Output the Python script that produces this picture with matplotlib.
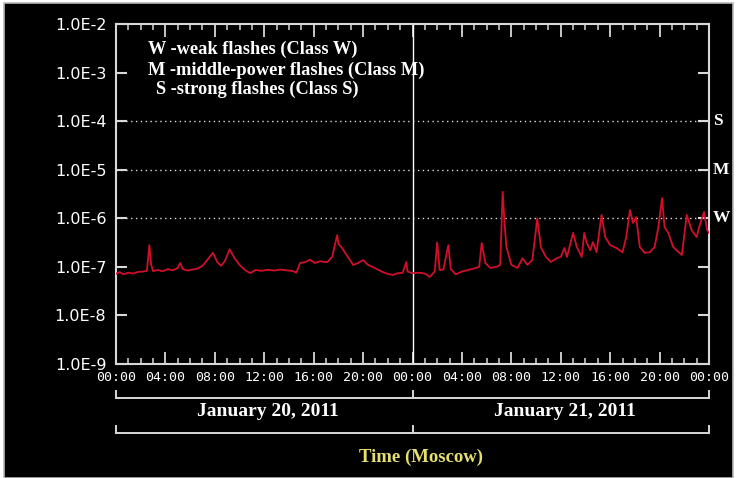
import matplotlib
matplotlib.use("Agg")
import matplotlib.pyplot as plt
from matplotlib.patches import Rectangle
from matplotlib.ticker import FixedLocator, FixedFormatter, NullFormatter
import numpy as np

# ---- data (hours since 2011-01-20 00:00 Moscow, X-ray flux) ----
hours = [0.0, 0.3, 0.6, 1.0, 1.4, 1.8, 2.2, 2.5, 2.7, 2.85, 3.0, 3.4, 3.8, 4.2, 4.6,
         5.0, 5.2, 5.4, 5.8, 6.2, 6.6, 7.0, 7.4, 7.85, 8.2, 8.5, 8.8, 9.2, 9.6, 10.0,
         10.4, 10.85, 11.3, 11.8, 12.3, 12.8, 13.3, 13.8, 14.3, 14.6, 14.9, 15.3, 15.7,
         16.1, 16.5, 17.1, 17.5, 17.9, 18.0, 18.3, 18.7, 19.2, 19.6, 20.0, 20.4, 20.8,
         21.2, 21.6, 22.0, 22.4, 22.8, 23.2, 23.5, 23.6, 24.0,
         24.5, 25.0, 25.4, 25.8, 26.0, 26.2, 26.5, 26.9, 27.1, 27.5, 28.0, 28.5, 29.0,
         29.4, 29.6, 29.9, 30.3, 30.8, 31.1, 31.3, 31.45, 31.6, 32.0, 32.5, 32.9, 33.3,
         33.7, 34.1, 34.4, 34.8, 35.2, 35.7, 36.0, 36.3, 36.5, 37.0, 37.3, 37.7, 37.9,
         38.1, 38.4, 38.6, 38.9, 39.3, 39.6, 40.0, 40.5, 41.0, 41.3, 41.6, 41.85, 42.1,
         42.4, 42.8, 43.2, 43.6, 43.9, 44.2, 44.4, 44.7, 45.1, 45.8, 46.2, 46.6, 47.0,
         47.2, 47.6, 47.85, 48.0]
flux = [7.2e-8, 7.8e-8, 7.0e-8, 7.6e-8, 7.3e-8, 7.9e-8, 8.0e-8, 8.3e-8, 2.8e-7, 1.1e-7,
        8.2e-8, 8.6e-8, 8.1e-8, 9.0e-8, 8.5e-8, 9.5e-8, 1.2e-7, 9.0e-8, 8.4e-8, 8.8e-8,
        9.2e-8, 1.05e-7, 1.4e-7, 1.95e-7, 1.25e-7, 1.05e-7, 1.3e-7, 2.3e-7, 1.5e-7,
        1.1e-7, 8.8e-8, 7.4e-8, 8.6e-8, 8.3e-8, 8.7e-8, 8.4e-8, 8.8e-8, 8.5e-8, 8.2e-8,
        7.6e-8, 1.2e-7, 1.25e-7, 1.4e-7, 1.2e-7, 1.3e-7, 1.25e-7, 1.6e-7, 4.5e-7, 3.0e-7,
        2.45e-7, 1.7e-7, 1.09e-7, 1.2e-7, 1.38e-7, 1.1e-7, 9.9e-8, 8.8e-8, 7.8e-8, 7.2e-8,
        6.8e-8, 7.4e-8, 7.5e-8, 1.26e-7, 8.0e-8, 7.4e-8,
        7.6e-8, 7.3e-8, 6.2e-8, 8.0e-8, 3.2e-7, 8.6e-8, 8.8e-8, 2.8e-7, 9.0e-8, 7.0e-8,
        8.0e-8, 8.6e-8, 9.3e-8, 1.0e-7, 3.1e-7, 1.2e-7, 9.5e-8, 1.0e-7, 1.1e-7, 3.5e-6,
        8.0e-7, 2.6e-7, 1.1e-7, 9.5e-8, 1.5e-7, 1.1e-7, 1.38e-7, 1.0e-6, 2.5e-7, 1.6e-7,
        1.26e-7, 1.52e-7, 1.6e-7, 2.45e-7, 1.6e-7, 5.0e-7, 2.56e-7, 1.6e-7, 5.0e-7,
        3.1e-7, 2.2e-7, 3.25e-7, 2.0e-7, 1.17e-6, 4.1e-7, 2.8e-7, 2.45e-7, 2.0e-7, 4.1e-7,
        1.48e-6, 8.0e-7, 1.06e-6, 2.56e-7, 1.93e-7, 2.0e-7, 2.56e-7, 6.6e-7, 2.6e-6,
        6.6e-7, 5.0e-7, 2.56e-7, 1.75e-7, 1.17e-6, 5.7e-7, 4.1e-7, 6.6e-7, 1.35e-6,
        5.7e-7, 5.0e-7]

y_ticks = [1e-9, 1e-8, 1e-7, 1e-6, 1e-5, 1e-4, 1e-3, 1e-2]
y_labels = ["1.0E-9", "1.0E-8", "1.0E-7", "1.0E-6", "1.0E-5", "1.0E-4", "1.0E-3", "1.0E-2"]
x_ticks = [0, 4, 8, 12, 16, 20, 24, 28, 32, 36, 40, 44, 48]
x_labels = ["00:00", "04:00", "08:00", "12:00", "16:00", "20:00",
            "00:00", "04:00", "08:00", "12:00", "16:00", "20:00", "00:00"]
class_levels = [1e-4, 1e-5, 1e-6]
class_names = ["S", "M", "W"]
legend_lines = ["W -weak flashes (Class W)",
                "M -middle-power flashes (Class M)",
                "S -strong flashes (Class S)"]
day_labels = ["January 20, 2011", "January 21, 2011"]
xlabel = "Time (Moscow)"

W, H = 738, 478
fig = plt.figure(figsize=(W / 100, H / 100), dpi=100, facecolor="white")
# black panel with thin gray border
fig.patches.append(Rectangle((4 / W, 0), 729 / W, 1 - 3 / H, transform=fig.transFigure,
                             facecolor="black", edgecolor="#b8b8b8", linewidth=1.2,
                             zorder=-10))

ax = fig.add_axes([116 / W, 1 - 364 / H, 593 / W, 340 / H])
ax.set_facecolor("black")
ax.set_yscale("log")
ax.set_xlim(0, 48)
ax.set_ylim(1e-9, 1e-2)

spine_col = "#d8d8d8"
for s in ax.spines.values():
    s.set_color(spine_col)
    s.set_linewidth(1.5)

# dotted class-level grid lines
for lv in class_levels:
    ax.axhline(lv, color="#dcdcdc", linestyle=(0, (1, 2.5)), linewidth=1.0, zorder=1)
# day divider
ax.axvline(24, color="white", linewidth=1.0, zorder=2)

ax.plot(hours, flux, color="#d0102a", linewidth=1.3, zorder=3)

ax.yaxis.set_major_locator(FixedLocator(y_ticks))
ax.yaxis.set_major_formatter(FixedFormatter(y_labels))
ax.yaxis.set_minor_locator(FixedLocator([]))
ax.yaxis.set_minor_formatter(NullFormatter())
ax.xaxis.set_major_locator(FixedLocator(x_ticks))
ax.xaxis.set_major_formatter(FixedFormatter(x_labels))
ax.xaxis.set_minor_locator(FixedLocator(list(range(0, 49))))

ax.tick_params(axis="y", which="major", direction="in", length=8, width=1.5,
               colors=spine_col, labelcolor="white", left=True, right=True,
               labelsize=11.5, pad=7)
ax.tick_params(axis="x", which="major", direction="in", length=9, width=1.3,
               colors=spine_col, labelcolor="white", top=True, bottom=True,
               labelsize=9.5, pad=5)
ax.tick_params(axis="x", which="minor", direction="in", length=4.5, width=1.1,
               colors=spine_col, top=True, bottom=True)
for lab in ax.get_xticklabels():
    lab.set_family("DejaVu Sans Mono")
for lab in ax.get_yticklabels():
    lab.set_family("DejaVu Sans")

serif = "Liberation Serif"
# class letters on the right
for lv, nm in zip(class_levels, class_names):
    ax.text(1.007, lv, nm, transform=ax.get_yaxis_transform(), color="white",
            fontsize=12.5, fontweight="bold", family=serif, ha="left", va="center",
            clip_on=False)

# legend text
leg_x = [0.054, 0.054, 0.068]
leg_y = [0.926, 0.865, 0.809]
for t, lx, ly in zip(legend_lines, leg_x, leg_y):
    ax.text(lx, ly, t, transform=ax.transAxes, color="white", fontsize=13.2,
            fontweight="bold", family=serif, ha="left", va="center")

# brackets under the axis
tr = ax.get_xaxis_transform()
for yb, ytop in [(-0.100, -0.079), (-0.203, -0.182)]:
    ax.plot([0, 48], [yb, yb], transform=tr, color=spine_col, lw=1.4, clip_on=False)
    for xv in [0, 24, 48]:
        ax.plot([xv, xv], [yb, ytop], transform=tr, color=spine_col, lw=1.4,
                clip_on=False)

for xc, t in zip([12.3, 36.3], day_labels):
    ax.text(xc, -0.141, t, transform=tr, color="white", fontsize=14,
            fontweight="bold", family=serif, ha="center", va="center")

ax.text(24.7, -0.274, xlabel, transform=tr, color="#e6e070", fontsize=13.5,
        fontweight="bold", family=serif, ha="center", va="center")

fig.savefig("out.png", dpi=100, facecolor=fig.get_facecolor())
